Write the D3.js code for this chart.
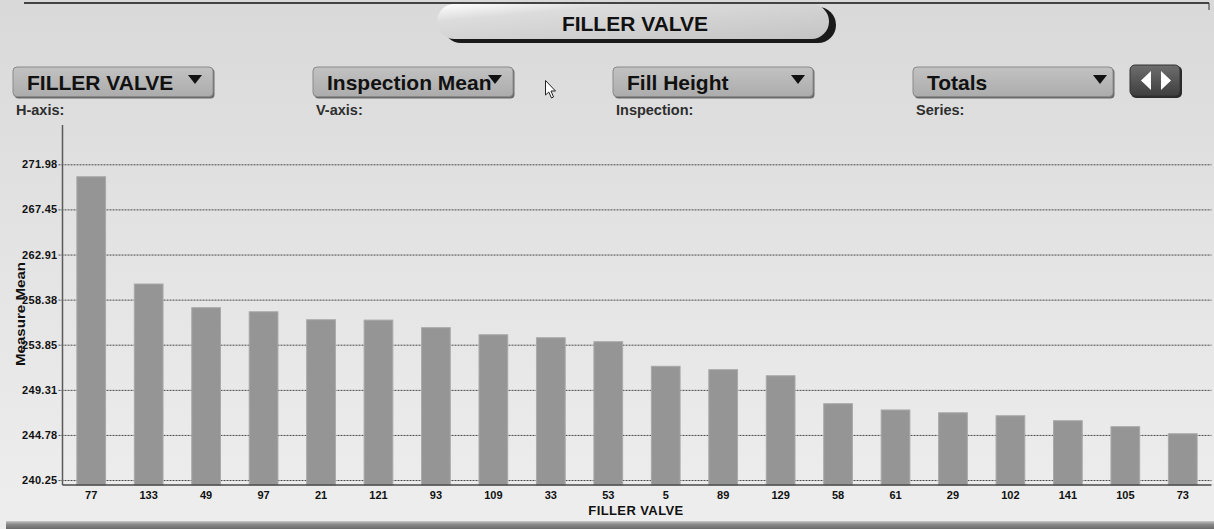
<!DOCTYPE html>
<html>
<head>
<meta charset="utf-8">
<script src="https://cdn.jsdelivr.net/npm/d3@7/dist/d3.min.js"></script>
<style>
  html, body { margin: 0; padding: 0; background: #e2e2e2; }
  svg { display: block; }
  text { font-family: "Liberation Sans", Arial, sans-serif; font-weight: bold; }
</style>
</head>
<body>
<svg id="chart" width="1214" height="529"></svg>
<script>
// Filler valves, sorted by mean fill height
const valves = ["77", "133", "49", "97", "21", "121", "93", "109", "33", "53",
                "5", "89", "129", "58", "61", "29", "102", "141", "105", "73"];
const means = [270.73, 259.95, 257.57, 257.16, 256.36, 256.32, 255.56, 254.85, 254.55, 254.15,
               251.68, 251.34, 250.73, 247.92, 247.29, 247.01, 246.71, 246.21, 245.61, 244.90];
const yTicks = [240.25, 244.78, 249.31, 253.85, 258.38, 262.91, 267.45, 271.98];
const yTickLabels = ["240.25", "244.78", "249.31", "253.85", "258.38", "262.91", "267.45", "271.98"];
const yDomain = [239.75, 275.93];

// Selector bar contents
const selectors = [
  { label: "FILLER VALVE", caption: "H-axis:" },
  { label: "Inspection Mean", caption: "V-axis:" },
  { label: "Fill Height", caption: "Inspection:" },
  { label: "Totals", caption: "Series:" }
];
const titleText = "FILLER VALVE";
const xTitle = "FILLER VALVE";
const yTitle = "Measure Mean";

const svg = d3.select("#chart");
const W = 1214, H = 529;
const defs = svg.append("defs");

// panel background
const bg = defs.append("linearGradient").attr("id", "bg").attr("x1", 0).attr("y1", 0).attr("x2", 0).attr("y2", 1);
bg.append("stop").attr("offset", "0").attr("stop-color", "#d9d9d9");
bg.append("stop").attr("offset", "0.5").attr("stop-color", "#e4e4e4");
bg.append("stop").attr("offset", "1").attr("stop-color", "#eeeeee");
svg.append("rect").attr("width", W).attr("height", H).attr("fill", "url(#bg)");

// frame edges
svg.append("line").attr("x1", 24).attr("x2", 1209).attr("y1", 3).attr("y2", 3)
  .attr("stroke", "#111").attr("stroke-width", 1.5);
svg.append("line").attr("x1", 1209).attr("x2", 1209).attr("y1", 3).attr("y2", 10)
  .attr("stroke", "#333").attr("stroke-width", 1);
const bot = defs.append("linearGradient").attr("id", "bot").attr("x1", 0).attr("y1", 0).attr("x2", 0).attr("y2", 1);
bot.append("stop").attr("offset", "0").attr("stop-color", "#c8c8c8");
bot.append("stop").attr("offset", "0.4").attr("stop-color", "#8a8a8a");
bot.append("stop").attr("offset", "1").attr("stop-color", "#6a6a6a");
svg.append("rect").attr("x", 6).attr("y", 521).attr("width", W - 6).attr("height", 8).attr("fill", "url(#bot)");

// title pill
const pillLight = defs.append("linearGradient").attr("id", "pillLight").attr("x1", 0).attr("y1", 0).attr("x2", 1).attr("y2", 1);
pillLight.append("stop").attr("offset", "0").attr("stop-color", "#ffffff");
pillLight.append("stop").attr("offset", "0.25").attr("stop-color", "#dcdcdc");
pillLight.append("stop").attr("offset", "1").attr("stop-color", "#c4c4c4");
svg.append("rect").attr("x", 443).attr("y", 7).attr("width", 393).attr("height", 36).attr("rx", 18)
  .attr("fill", "#1a1a1a");
svg.append("rect").attr("x", 437).attr("y", 4).attr("width", 392).attr("height", 35).attr("rx", 17.5)
  .attr("fill", "url(#pillLight)");
svg.append("text").attr("x", 635).attr("y", 31).attr("text-anchor", "middle")
  .attr("font-size", 21).attr("fill", "#111").text(titleText);

// selector dropdowns
const ddGrad = defs.append("linearGradient").attr("id", "dd").attr("x1", 0).attr("y1", 0).attr("x2", 0).attr("y2", 1);
ddGrad.append("stop").attr("offset", "0").attr("stop-color", "#c2c2c2");
ddGrad.append("stop").attr("offset", "1").attr("stop-color", "#acacac");
const ddX = [13, 313, 613, 913];
const ddW = 200;
const ddTri = [195, 495, 798, 1100];
selectors.forEach((s, i) => {
  const g = svg.append("g");
  g.append("rect").attr("x", ddX[i] + 1.5).attr("y", 68.5).attr("width", ddW).attr("height", 30).attr("rx", 4)
    .attr("fill", "#6a6a6a");
  g.append("rect").attr("x", ddX[i]).attr("y", 67).attr("width", ddW).attr("height", 29.5).attr("rx", 4)
    .attr("fill", "url(#dd)").attr("stroke", "#8a8a8a").attr("stroke-width", 1);
  g.append("text").attr("x", ddX[i] + 14).attr("y", 89.5).attr("font-size", 21).attr("fill", "#111").text(s.label);
  const t = ddTri[i];
  g.append("path").attr("d", `M${t - 7},75 L${t + 7},75 L${t},84 Z`).attr("fill", "#111");
  svg.append("text").attr("x", ddX[i] + 3).attr("y", 115).attr("font-size", 14.5).attr("fill", "#2e2e2e")
    .text(s.caption);
});

// scroll arrows button
const arrGrad = defs.append("linearGradient").attr("id", "arr").attr("x1", 0).attr("y1", 0).attr("x2", 0).attr("y2", 1);
arrGrad.append("stop").attr("offset", "0").attr("stop-color", "#6e6e6e");
arrGrad.append("stop").attr("offset", "1").attr("stop-color", "#3e3e3e");
svg.append("rect").attr("x", 1131).attr("y", 66).attr("width", 51).attr("height", 32).attr("rx", 5)
  .attr("fill", "#2a2a2a");
svg.append("rect").attr("x", 1130).attr("y", 65).attr("width", 50).attr("height", 31).attr("rx", 5)
  .attr("fill", "url(#arr)").attr("stroke", "#333");
svg.append("path").attr("d", "M1141,80.5 L1151,71 L1151,90 Z").attr("fill", "#fff");
svg.append("path").attr("d", "M1171,80.5 L1161,71 L1161,90 Z").attr("fill", "#fff");

// mouse pointer
svg.append("path")
  .attr("d", "M545.5,80.5 L545.5,95 L548.8,92 L551.5,98 L553.5,97 L551,91 L555.5,91 Z")
  .attr("fill", "#fff").attr("stroke", "#222").attr("stroke-width", 1);

// chart scales
const plotLeft = 62.5, plotRight = 1211.5, plotTop = 125, plotBottom = 485;
const x = d3.scaleBand().domain(valves).range([plotLeft, plotRight]).paddingInner(0.5).paddingOuter(0.25);
const y = d3.scaleLinear().domain(yDomain).range([plotBottom, plotTop]);

// gridlines and y tick labels
const yAxis = d3.axisLeft(y).tickValues(yTicks).tickSize(-(plotRight - plotLeft)).tickPadding(5)
  .tickFormat((d, i) => yTickLabels[i]);
const gy = svg.append("g").attr("transform", `translate(${plotLeft},0)`).call(yAxis);
gy.select(".domain").remove();
gy.selectAll(".tick line").attr("x1", -4).attr("stroke", "#4a4a4a").attr("stroke-dasharray", "2,1");
gy.selectAll(".tick text").attr("font-size", 11).attr("fill", "#111").attr("x", -5)
  .attr("font-family", "'Liberation Sans', Arial, sans-serif").attr("letter-spacing", 0.3);

// bars
svg.append("g").selectAll("rect").data(valves).join("rect")
  .attr("x", d => x(d))
  .attr("y", (d, i) => y(means[i]))
  .attr("width", x.bandwidth())
  .attr("height", (d, i) => plotBottom - y(means[i]))
  .attr("fill", "#959595")
  .attr("stroke", "#a9a9a9").attr("stroke-width", 1);

// axes lines
svg.append("line").attr("x1", plotLeft).attr("x2", plotLeft).attr("y1", plotTop).attr("y2", plotBottom)
  .attr("stroke", "#5a5a5a").attr("stroke-width", 1.5);
svg.append("line").attr("x1", plotLeft).attr("x2", plotRight).attr("y1", plotBottom).attr("y2", plotBottom)
  .attr("stroke", "#4a4a4a").attr("stroke-width", 1.5);

// x tick labels
const xAxis = d3.axisBottom(x).tickSize(0).tickPadding(6);
const gx = svg.append("g").attr("transform", `translate(0,${plotBottom})`).call(xAxis);
gx.select(".domain").remove();
gx.selectAll(".tick text").attr("font-size", 11).attr("fill", "#111")
  .attr("font-family", "'Liberation Sans', Arial, sans-serif");

// axis titles
svg.append("text").attr("x", 636).attr("y", 515).attr("text-anchor", "middle")
  .attr("font-size", 13).attr("fill", "#111").attr("letter-spacing", 0.4).text(xTitle);
svg.append("text").attr("transform", "translate(25,314) rotate(-90)").attr("text-anchor", "middle")
  .attr("font-size", 12).attr("fill", "#111").attr("textLength", 104).attr("lengthAdjust", "spacingAndGlyphs")
  .text(yTitle);
</script>
</body>
</html>
